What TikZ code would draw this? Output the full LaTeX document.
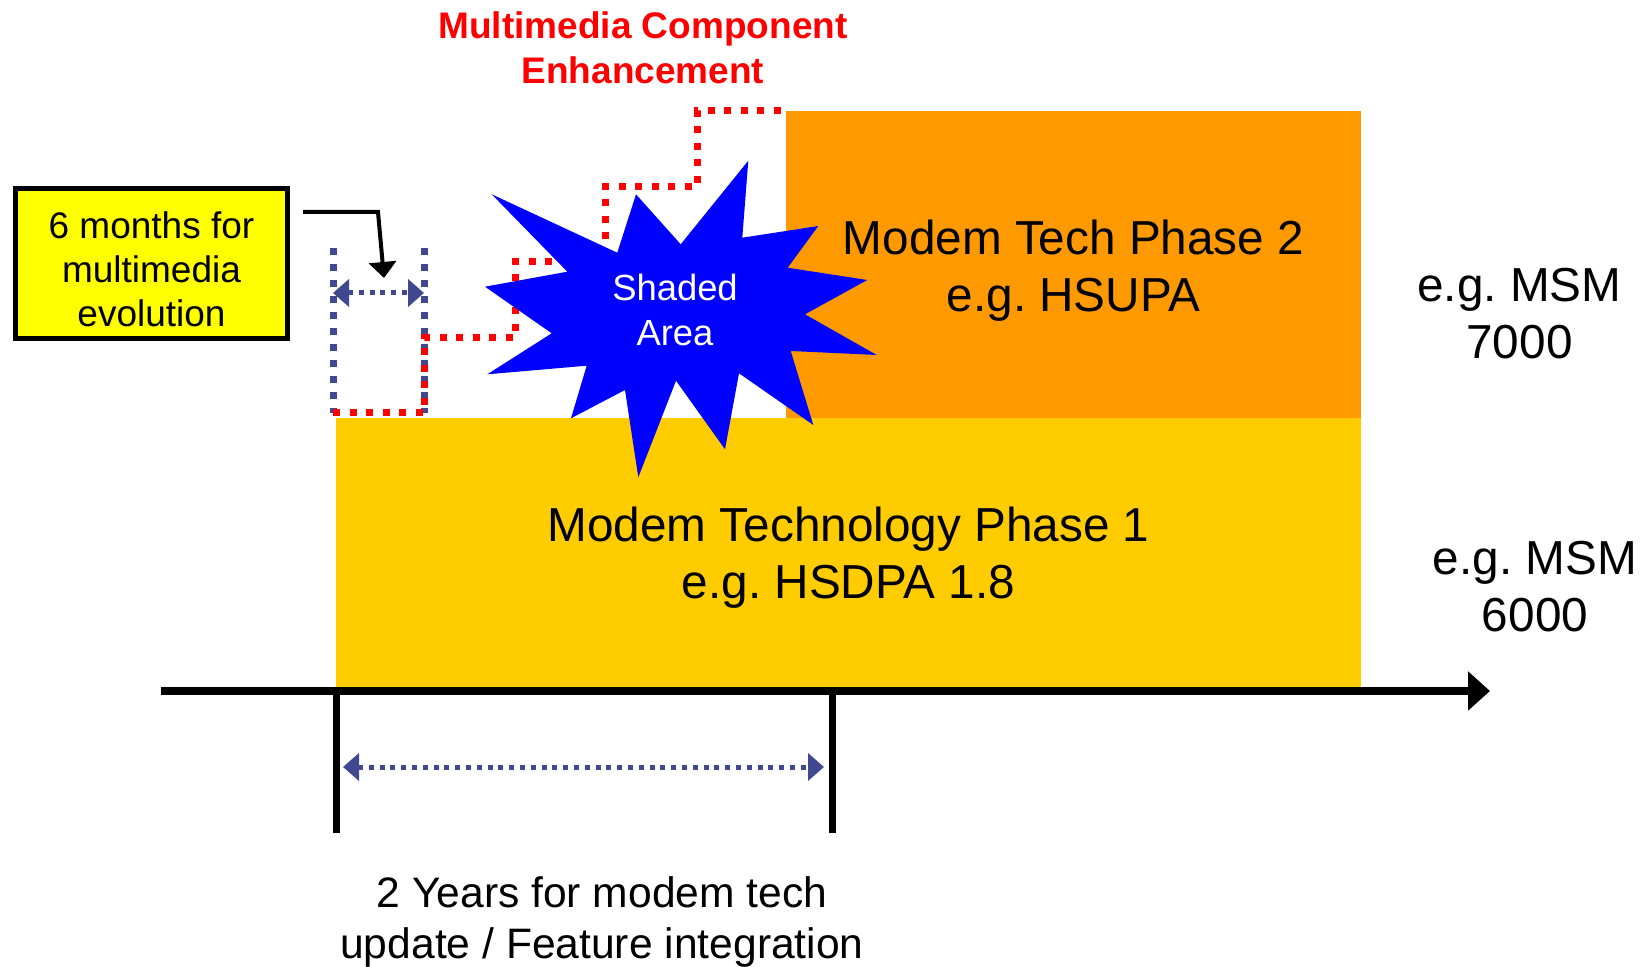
\documentclass[tikz,border=0pt]{standalone}
\usepackage{fontspec}
\setmainfont{Liberation Sans}
\usetikzlibrary{arrows.meta}
\definecolor{gold}{HTML}{FFCC00}
\definecolor{orng}{HTML}{FF9900}
\definecolor{lblyellow}{HTML}{FFFF00}
\definecolor{dotblue}{RGB}{64,72,144}
\definecolor{starblue}{HTML}{0000FF}
\definecolor{mmred}{HTML}{FF0000}
\tikzset{
  bar/.style={draw=none, inner sep=0pt, outer sep=0pt},
  txt/.style={inner sep=0pt, outer sep=0pt, align=center},
  bigtxt/.style={txt, font=\fontsize{23.85}{28.5}\selectfont},
  midtxt/.style={txt, font=\fontsize{21.3}{25.3}\selectfont},
  smalltxt/.style={txt, font=\fontsize{18.5}{22}\selectfont},
  reddots/.style={draw=mmred, line width=3.5pt, dash pattern=on 3.5pt off 4.75pt},
  bluedots/.style={draw=dotblue, line width=3.5pt, dash pattern=on 3.5pt off 4.5pt},
  bluearrow/.style={draw=dotblue, line width=2.5pt, dash pattern=on 2.5pt off 2.9pt,
     {Triangle[length=8pt,width=13.5pt]}-{Triangle[length=8pt,width=13.5pt]}},
}
\frenchspacing
\begin{document}
\begin{tikzpicture}[x=0.5pt,y=-0.5pt]
\useasboundingbox (0,0) rectangle (1648,967);

% bars
\node[bar, fill=orng, minimum width=287.5pt, minimum height=153.5pt] (p2) at (1073.5,264.5) {};
\node[bar, fill=gold, minimum width=512.5pt, minimum height=135pt] (p1) at (848.5,553) {};

% time axis
\coordinate (axs) at (161,691);
\coordinate (axe) at (1490,691);
\draw[line width=4pt, -{Triangle[length=11pt,width=19pt]}] (axs) -- (axe);
\coordinate (tl) at (336,691);
\coordinate (tlb) at (336,833);
\coordinate (tr) at (832,691);
\coordinate (trb) at (832,833);
\draw[line width=3.5pt] (tl) -- (tlb);
\draw[line width=3.5pt] (tr) -- (trb);
\coordinate (ya) at (343,767);
\coordinate (yb) at (824,767);
\draw[bluearrow] (ya) -- (yb);

% 6 months bracket
\coordinate (bl1) at (333,248);
\coordinate (bl2) at (333,413);
\coordinate (br1) at (424,248);
\coordinate (br2) at (424,413);
\draw[bluedots] (bl1) -- (bl2);
\draw[bluedots] (br1) -- (br2);
\coordinate (ma) at (333,293);
\coordinate (mb) at (424,293);
\draw[bluearrow] (ma) -- (mb);

% red step path
\draw[reddots] (bl2) -- (br2) -- (424,338) -- (515,338) -- (515,262) -- (605,262)
  -- (605,187) -- (697,187) -- (697,111) -- (p2.north west);

% label box
\node[draw=black, line width=2.5pt, fill=lblyellow, minimum width=136pt, minimum height=75pt, inner sep=0pt] (lbl) at (151.5,263.5) {};
\node[smalltxt] (lbltxt) at (151.5,269) {6 months for\\multimedia\\evolution};
\coordinate (la) at (303,212);
\coordinate (lk) at (378,212);
\coordinate (lt) at (384,278);
\draw[line width=2pt, -{Triangle[length=8pt,width=13.5pt]}] (la) -- (lk) -- (lt);

% starburst
\fill[starblue] (491.7,194.3) -- (617.3,252.7) -- (636,194.3) -- (680.7,244.3)
  -- (748.3,160.7) -- (742.3,237.7) -- (818.3,226) -- (787.7,267.7)
  -- (867.3,280) -- (805,314.3) -- (876.7,355) -- (790.7,351)
  -- (813.3,425) -- (739,373.3) -- (725,449.3) -- (676,380.7)
  -- (638.3,477.3) -- (625,390) -- (571,418.3) -- (586.7,365.7)
  -- (487.3,374.3) -- (551.7,333.3) -- (485,286.7) -- (567.3,271.7) -- cycle;
\node[txt, text=white, font=\fontsize{18.2}{22.5}\selectfont] (shade) at (675,310) {Shaded\\Area};

% texts
\node[bigtxt] (t1) at (848.5,558) {Modem Technology Phase 1\\e.g. HSDPA 1.8};
\node[bigtxt] (t2) at (1073.5,271) {Modem Tech Phase 2\\e.g. HSUPA};
\node[bigtxt] (t3) at (1519.5,314) {e.g. MSM\\7000};
\node[bigtxt] (t4) at (1535,587) {e.g. MSM\\6000};
\node[midtxt] (t5) at (602,922) {2 Years for modem tech\\update / Feature integration};
\node[txt, text=mmred, font=\bfseries\fontsize{18.5}{22.5}\selectfont] (t8) at (643,47.5) {Multimedia Component\\Enhancement};
\end{tikzpicture}
\end{document}
